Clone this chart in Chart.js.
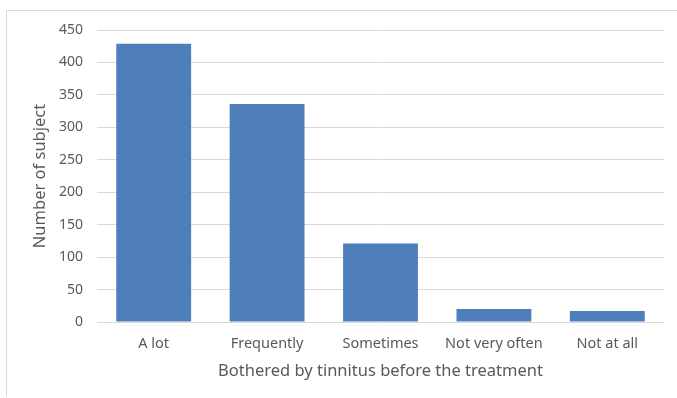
<!DOCTYPE html>
<html>
<head>
<meta charset="utf-8">
<script src="https://cdn.jsdelivr.net/npm/chart.js@4/dist/chart.umd.min.js"></script>
<style>
  html, body { margin: 0; padding: 0; background: #ffffff; }
  canvas { display: block; }
</style>
</head>
<body>
<canvas id="c" width="677" height="398"></canvas>
<script>
// Responses to "how much were you bothered by tinnitus before treatment"
const categories = ["A lot", "Frequently", "Sometimes", "Not very often", "Not at all"];
const subjects = [429, 336, 121, 20, 17];
const yTicks = [0, 50, 100, 150, 200, 250, 300, 350, 400, 450];

const xTitle = "Bothered by tinnitus before the treatment";
const yTitle = "Number of subject";

const textColor = "#595959";
const gridColor = "#d9d9d9";
const fontFamily = "'Noto Sans', 'Open Sans', sans-serif";

// thin frame around the chart panel
const framePlugin = {
  id: "frame",
  beforeDraw(chart) {
    const ctx = chart.ctx;
    ctx.save();
    ctx.strokeStyle = "#d9d9d9";
    ctx.lineWidth = 1;
    ctx.beginPath();
    ctx.moveTo(6.5, 397);
    ctx.lineTo(6.5, 10.5);
    ctx.lineTo(677, 10.5);
    ctx.stroke();
    ctx.restore();
  }
};

new Chart(document.getElementById("c"), {
  type: "bar",
  data: {
    labels: categories,
    datasets: [{
      data: subjects,
      backgroundColor: "#4e7fbb",
      borderWidth: 0,
      categoryPercentage: 1,
      barPercentage: 0.66
    }]
  },
  options: {
    responsive: false,
    devicePixelRatio: 1,
    animation: false,
    events: [],
    layout: { padding: { top: 30, right: 13, bottom: 0, left: 0 } },
    plugins: { legend: { display: false }, tooltip: { enabled: false } },
    scales: {
      x: {
        grid: { display: false, drawTicks: false },
        border: { display: false },
        ticks: {
          color: textColor,
          font: { family: fontFamily, size: 14.5 },
          padding: 13,
          maxRotation: 0
        },
        title: {
          display: true,
          text: xTitle,
          color: textColor,
          font: { family: fontFamily, size: 16.5 },
          padding: { top: 0, bottom: 17 }
        },
        afterFit(scale) { scale.height = 76; }
      },
      y: {
        min: 0,
        max: 450,
        afterBuildTicks(scale) { scale.ticks = yTicks.map(v => ({ value: v })); },
        grid: { color: gridColor, drawTicks: false, lineWidth: 1 },
        border: { display: false },
        ticks: {
          color: textColor,
          font: { family: fontFamily, size: 14 },
          padding: 14
        },
        title: {
          display: true,
          text: yTitle,
          color: textColor,
          font: { family: fontFamily, size: 16.5 },
          padding: { top: 30, bottom: 0 }
        },
        afterFit(scale) { scale.width = 97; }
      }
    }
  },
  plugins: [framePlugin]
});
</script>
</body>
</html>
